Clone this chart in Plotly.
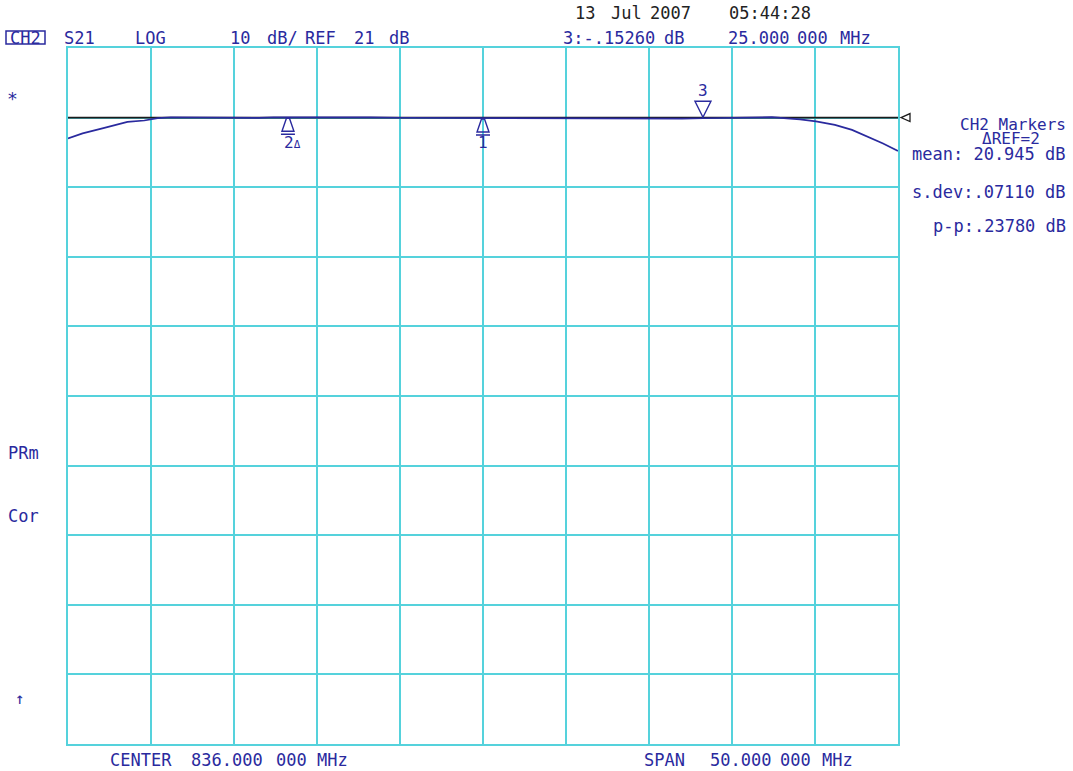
import numpy as np
import plotly.graph_objects as go

# ---------------- data ----------------
center_mhz = 836.0
span_mhz = 50.0
ref_level_db = 21.0
db_per_div = 10.0

freq_mhz = [811.0, 811.88, 813.13, 814.58, 815.6, 816.4, 817.2, 818.2, 819.5, 821.0,
            822.5, 823.4, 824.25, 825.5, 827.0, 828.5, 829.2, 831.0, 833.0, 836.0,
            838.5, 841.0, 843.5, 846.0, 848.0, 849.25, 850.5, 851.8, 852.5, 853.4,
            854.31, 855.1, 856.06, 857.2, 858.23, 859.19, 860.1, 861.0]
s21_db = [18.01, 18.74, 19.49, 20.38, 20.58, 20.92, 21.05, 21.04, 20.97, 20.95,
          20.97, 21.05, 21.06, 21.08, 21.07, 21.05, 21.02, 20.98, 20.96, 20.95,
          20.93, 20.92, 20.90, 20.88, 20.86, 20.91, 20.93, 20.98, 21.05, 21.06,
          20.89, 20.74, 20.45, 19.95, 19.23, 18.23, 17.29, 16.22]

marker_freqs = [836.0, 824.25, 849.25]
marker_labels = ["1", "2<span style='font-size:11px'>Δ</span>", "3"]

# ---------------- styles ----------------
BLUE = "#2a2a9e"
CYAN = "#55d2dc"
FONT = "DejaVu Sans Mono"
W, H = 1073, 771
L, T = 68, 48
PW, PH = 830, 696
R, B = W - L - PW, H - T - PH

f_start = center_mhz - span_mhz / 2
f_stop = center_mhz + span_mhz / 2
y_top = ref_level_db + db_per_div
y_bot = y_top - 10 * db_per_div

fig = go.Figure()

# reference line
fig.add_trace(go.Scatter(x=[f_start, f_stop], y=[ref_level_db, ref_level_db],
                         mode="lines", line=dict(color="#1c1c1c", width=1.6),
                         hoverinfo="skip", showlegend=False))
# S21 trace
fig.add_trace(go.Scatter(x=freq_mhz, y=s21_db, mode="lines",
                         line=dict(color=BLUE, width=1.7),
                         hoverinfo="skip", showlegend=False))

marker_vals = np.interp(marker_freqs, freq_mhz, s21_db)

shapes = []
annotations = []

up_path = "M -1.5,-1 L 1.5,-1 L 6,-14 L -6,-14 Z M -7,-17 L 7,-17"
down_path = "M -8,17 L 8,17 L 0,1 Z"
for i, (f, v, lab) in enumerate(zip(marker_freqs, marker_vals, marker_labels)):
    above = (i == 2)
    shapes.append(dict(type="path", xref="x", yref="y", xsizemode="pixel", ysizemode="pixel",
                       xanchor=f, yanchor=float(v), path=down_path if above else up_path,
                       line=dict(color=BLUE, width=1.4), fillcolor="rgba(0,0,0,0)"))
    annotations.append(dict(xref="x", yref="y", x=f, y=float(v), text=lab, showarrow=False,
                            xshift=(5 if i == 1 else 0), yshift=(28 if above else -25),
                            font=dict(family=FONT, size=16, color=BLUE)))

# reference-level pointer at the right edge
ref_paper_y = (ref_level_db - y_bot) / (y_top - y_bot)
shapes.append(dict(type="path", xref="paper", yref="paper", xsizemode="pixel", ysizemode="pixel",
                   xanchor=1.0, yanchor=ref_paper_y, path="M 3,0 L 12,4 L 12,-4 Z",
                   line=dict(color="#1c1c1c", width=1.3), fillcolor="rgba(0,0,0,0)"))


# helpers: screen pixel -> paper coords
def px(x):
    return (x - L) / PW


def py(y):
    return (H - B - y) / PH


# CH2 box
shapes.append(dict(type="rect", xref="paper", yref="paper", x0=px(6), x1=px(45), y0=py(44), y1=py(31),
                   line=dict(color=BLUE, width=1.5), fillcolor="rgba(0,0,0,0)"))


def txt(text, x, y, anchor="left", color=BLUE, size=17):
    annotations.append(dict(xref="paper", yref="paper", x=px(x), y=py(y), text=text,
                            xanchor=anchor, yanchor="middle", showarrow=False,
                            font=dict(family=FONT, size=size, color=color)))


# header line
txt("CH2", 25.5, 38, "center")
for t, x in [("S21", 62), ("LOG", 133), ("10", 228), ("dB/", 265), ("REF", 303),
             ("21", 352), ("dB", 387), ("3:-.15260", 561), ("dB", 662),
             ("25.000", 726), ("000", 795), ("MHz", 838)]:
    txt(t, x, 38)
# date/time
for t, x in [("13", 573), ("Jul", 609), ("2007", 648), ("05:44:28", 727)]:
    txt(t, x, 13, color="#222222")
# bottom line
for t, x in [("CENTER", 108), ("836.000", 189), ("000", 274), ("MHz", 315),
             ("SPAN", 642), ("50.000", 708), ("000", 778), ("MHz", 820)]:
    txt(t, x, 760)
# left annotations
txt("*", 12, 98, "center", size=18)
txt("PRm", 6, 453)
txt("Cor", 6, 516)
txt("↑", 20, 698, "center", size=16)
# right-hand marker statistics
txt("CH2 Markers", 1068, 124, "right", size=16)
txt("ΔREF=2", 1011, 138, "center", size=16)
txt("mean: 20.945 dB", 1068, 154, "right")
txt("s.dev:.07110 dB", 1068, 192, "right")
txt("p-p:.23780 dB", 1068, 226, "right")

axis_common = dict(showticklabels=False, ticks="", showgrid=True, gridcolor=CYAN, gridwidth=2,
                   showline=True, linecolor=CYAN, linewidth=2, mirror=True, zeroline=False,
                   fixedrange=True)

fig.update_layout(
    width=W, height=H, autosize=False,
    margin=dict(l=L, r=R, t=T, b=B, pad=0),
    paper_bgcolor="white", plot_bgcolor="white",
    showlegend=False,
    xaxis=dict(range=[f_start, f_stop], tick0=f_start, dtick=span_mhz / 10, **axis_common),
    yaxis=dict(range=[y_bot, y_top], tick0=y_bot, dtick=db_per_div, **axis_common),
    shapes=shapes, annotations=annotations,
)

fig.write_html("out.html", config={"displayModeBar": False},
               post_script="document.body.style.margin='0px';document.body.style.overflow='hidden';")
